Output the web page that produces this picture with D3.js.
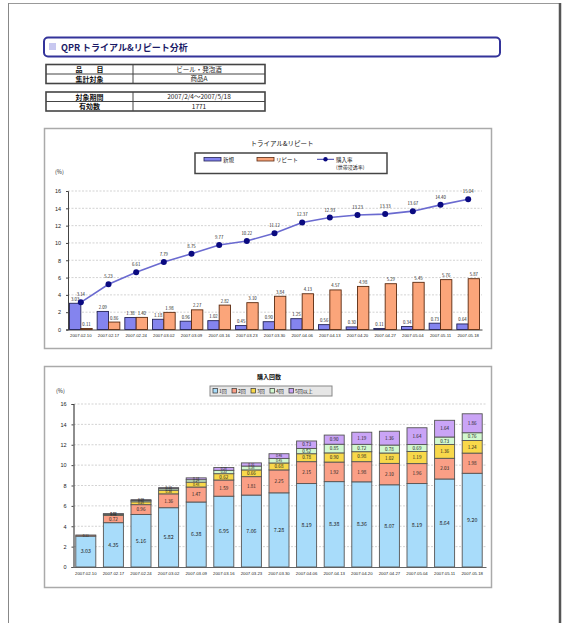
<!DOCTYPE html>
<html><head><meta charset="utf-8">
<script src="https://cdn.jsdelivr.net/npm/d3@7"></script>
<style>
html,body{margin:0;padding:0;background:#fff;}
svg{display:block;font-family:"Noto Sans CJK JP","Noto Sans",sans-serif;}
</style></head>
<body>
<svg id="c" width="563" height="623"></svg>
<script>
const dates = ["2007.02.10","2007.02.17","2007.02.24","2007.03.02","2007.03.09","2007.03.16","2007.03.23","2007.03.30","2007.04.06","2007.04.13","2007.04.20","2007.04.27","2007.05.04","2007.05.11","2007.05.18"];
const newBuyers = [3.03,2.09,1.38,1.18,0.96,1.02,0.45,0.90,1.25,0.56,0.30,0.11,0.34,0.73,0.64];
const repeaters = [0.11,0.86,1.40,1.98,2.27,2.82,3.10,3.84,4.13,4.57,4.98,5.29,5.45,5.76,5.87];
const penetration = [3.14,5.23,6.61,7.79,8.75,9.77,10.22,11.12,12.37,12.93,13.23,13.33,13.67,14.40,15.04];
const times1 = [3.03,4.35,5.16,5.82,6.38,6.95,7.06,7.28,8.19,8.38,8.36,8.07,8.19,8.64,9.20];
const times2 = [0.11,0.72,0.96,1.36,1.47,1.59,1.81,2.25,2.15,1.92,1.98,2.10,1.96,2.03,1.98];
const times3 = [0,0.10,0.28,0.36,0.48,0.62,0.66,0.68,0.78,0.90,0.98,1.02,1.19,1.36,1.24];
const times4 = [0,0.04,0.12,0.15,0.24,0.33,0.38,0.45,0.52,0.85,0.72,0.78,0.69,0.73,0.76];
const times5 = [0,0.02,0.09,0.10,0.18,0.28,0.31,0.46,0.73,0.90,1.19,1.36,1.64,1.64,1.86];
const yTicks = [0,2,4,6,8,10,12,14,16];
const timesNames = ["1回","2回","3回","4回","5回以上"];
const topSeriesNames = ["新規","リピート","購入率","(世帯浸透率)"];
const infoRows1 = [["品　　目","ビール・発泡酒"],["集計対象","商品A"]];
const infoRows2 = [["対象期間","2007/2/4～2007/5/18"],["有効数","1771"]];
const pageTitle = "QPR トライアル&リピート分析";
const chart1Title = "トライアル&リピート";
const chart2Title = "購入回数";

const svg = d3.select("#c");

// page frame
svg.append("line").attr("x1",8).attr("x2",561).attr("y1",3.5).attr("y2",3.5).attr("stroke","#999").attr("stroke-width",1);
svg.append("line").attr("x1",8.5).attr("x2",8.5).attr("y1",3).attr("y2",623).attr("stroke","#888").attr("stroke-width",1);
svg.append("line").attr("x1",560).attr("x2",560).attr("y1",3).attr("y2",623).attr("stroke","#555").attr("stroke-width",2.5);

// title box
svg.append("rect").attr("x",44).attr("y",37.5).attr("width",456).attr("height",19).attr("rx",4)
  .attr("fill","#fff").attr("stroke","#33339a").attr("stroke-width",2);
svg.append("rect").attr("x",49).attr("y",43).attr("width",7).attr("height",7).attr("fill","#c8c8f0");
svg.append("text").attr("x",61).attr("y",50.5).attr("font-size",9).attr("font-weight","bold")
  .attr("fill","#1a1a66").text(pageTitle);

// info tables
function table(rows, y0){
  const x0=46, x1=133, x2=265, rh=9.5;
  const g = svg.append("g");
  rows.forEach((r,i)=>{
    const y = y0 + i*rh;
    g.append("text").attr("x",(x0+x1)/2).attr("y",y+7.5).attr("text-anchor","middle")
      .attr("font-size",7).attr("font-weight","bold").attr("fill","#111").text(r[0]);
    g.append("text").attr("x",(x1+x2)/2).attr("y",y+7.3).attr("text-anchor","middle")
      .attr("font-size",6.5).attr("fill","#222").text(r[1]);
    if(i>0) g.append("line").attr("x1",x0).attr("x2",x2).attr("y1",y).attr("y2",y).attr("stroke","#444").attr("stroke-width",1);
  });
  g.append("line").attr("x1",x1).attr("x2",x1).attr("y1",y0).attr("y2",y0+rows.length*rh).attr("stroke","#444").attr("stroke-width",1);
  g.append("rect").attr("x",x0).attr("y",y0).attr("width",x2-x0).attr("height",rows.length*rh)
    .attr("fill","none").attr("stroke","#444").attr("stroke-width",1.6);
}
table(infoRows1, 64.5);
table(infoRows2, 92);

// panels
svg.append("rect").attr("x",44.5).attr("y",128.5).attr("width",447).attr("height",220)
  .attr("fill","#fff").attr("stroke","#aaa").attr("stroke-width",1.5);
svg.append("rect").attr("x",44.5).attr("y",366.5).attr("width",447).attr("height",221)
  .attr("fill","#fff").attr("stroke","#aaa").attr("stroke-width",1.5);

// ===== Chart 1 =====
const x1 = d3.scaleBand().domain(dates).range([67,482]).paddingInner(0.18).paddingOuter(0.09);
const xs1 = d3.scaleBand().domain(["new","rep"]).range([0,x1.bandwidth()]);
const y1 = d3.scaleLinear().domain([0,16]).range([329.5,191]);
const g1 = svg.append("g");

g1.append("text").attr("x",282).attr("y",146).attr("text-anchor","middle").attr("font-size",6.5).attr("fill","#111").text(chart1Title);
g1.append("text").attr("x",55).attr("y",174).attr("font-size",5.5).attr("fill","#222").text("(%)");

g1.selectAll(".gl").data(yTicks.filter(d=>d>0)).join("line")
  .attr("x1",68).attr("x2",482).attr("y1",d=>y1(d)).attr("y2",d=>y1(d))
  .attr("stroke","#c8c8c8").attr("stroke-width",0.8).attr("stroke-dasharray","2,1.5");
const ya1 = g1.append("g").attr("transform","translate(68,0)")
  .call(d3.axisLeft(y1).tickValues(yTicks).tickSize(2).tickFormat(d3.format("d")));
ya1.selectAll("text").attr("font-size",5.5).attr("fill","#222").attr("dx",-2);
ya1.select(".domain").attr("stroke","#444");
ya1.selectAll(".tick line").attr("stroke","#444");
const xa1 = g1.append("g").attr("transform","translate(0,329.5)")
  .call(d3.axisBottom(x1).tickSize(0).tickPadding(4));
xa1.select(".domain").attr("stroke","#444");
xa1.selectAll("text").attr("font-size",4.3).attr("fill","#222");

const bar1Data = dates.map((d,i)=>({d, items:[{k:"new",v:newBuyers[i]},{k:"rep",v:repeaters[i]}]}));
const grp1 = g1.selectAll(".grp").data(bar1Data).join("g").attr("transform",d=>`translate(${x1(d.d)},0)`);
const col1 = {new:"#8484ee", rep:"#fba57a"};
const stroke1 = {new:"#222255", rep:"#5a2a10"};
grp1.selectAll("rect").data(d=>d.items).join("rect")
  .attr("x",d=>xs1(d.k)).attr("width",xs1.bandwidth())
  .attr("y",d=>y1(d.v)).attr("height",d=>y1(0)-y1(d.v))
  .attr("fill",d=>col1[d.k]).attr("stroke",d=>stroke1[d.k]).attr("stroke-width",0.9);
grp1.selectAll(".bl").data(d=>d.items).join("text")
  .attr("x",d=>xs1(d.k)+xs1.bandwidth()/2).attr("y",d=>y1(d.v)-2.5)
  .attr("text-anchor","middle").attr("font-size",4.3).attr("fill","#222").text(d=>d.v.toFixed(2));

const cx = d=>x1(d)+x1.bandwidth()/2;
g1.append("path").datum(penetration)
  .attr("d",d3.line().x((v,i)=>cx(dates[i])).y(v=>y1(v)))
  .attr("fill","none").attr("stroke","#6a6ad0").attr("stroke-width",1.6);
g1.selectAll(".pt").data(penetration).join("circle")
  .attr("cx",(v,i)=>cx(dates[i])).attr("cy",v=>y1(v)).attr("r",3).attr("fill","#0a0a80");
g1.selectAll(".pl").data(penetration).join("text")
  .attr("x",(v,i)=>cx(dates[i])).attr("y",v=>y1(v)-6)
  .attr("text-anchor","middle").attr("font-size",4.3).attr("fill","#222").text(v=>v.toFixed(2));

const lg1 = g1.append("g");
lg1.append("rect").attr("x",195).attr("y",153).attr("width",192).attr("height",20.5)
  .attr("fill","#fff").attr("stroke","#444").attr("stroke-width",1.5);
lg1.append("rect").attr("x",204).attr("y",157.5).attr("width",17).attr("height",3.5).attr("fill",col1.new).attr("stroke",stroke1.new).attr("stroke-width",0.8);
lg1.append("text").attr("x",223).attr("y",161.5).attr("font-size",5.5).attr("fill","#111").text(topSeriesNames[0]);
lg1.append("rect").attr("x",257).attr("y",157.5).attr("width",17).attr("height",3.5).attr("fill",col1.rep).attr("stroke",stroke1.rep).attr("stroke-width",0.8);
lg1.append("text").attr("x",276).attr("y",161.5).attr("font-size",5.5).attr("fill","#111").text(topSeriesNames[1]);
lg1.append("line").attr("x1",317).attr("x2",334).attr("y1",159.3).attr("y2",159.3).attr("stroke","#3a3aa8").attr("stroke-width",1);
lg1.append("circle").attr("cx",325.5).attr("cy",159.3).attr("r",2.2).attr("fill","#0a0a80");
lg1.append("text").attr("x",336).attr("y",161.5).attr("font-size",5.5).attr("fill","#111").text(topSeriesNames[2]);
lg1.append("text").attr("x",336).attr("y",169).attr("font-size",5).attr("fill","#111").text(topSeriesNames[3]);

// ===== Chart 2 =====
const x2 = d3.scaleBand().domain(dates).range([72,486]).paddingInner(0.275).paddingOuter(0.1375);
const y2 = d3.scaleLinear().domain([0,16]).range([567,404]);
const g2 = svg.append("g");
g2.append("text").attr("x",269).attr("y",379).attr("text-anchor","middle").attr("font-size",6).attr("font-weight","bold").attr("fill","#111").text(chart2Title);
g2.append("text").attr("x",56).attr("y",393).attr("font-size",5.5).attr("fill","#222").text("(%)");

g2.selectAll(".gl").data(yTicks.filter(d=>d>0)).join("line")
  .attr("x1",74).attr("x2",486).attr("y1",d=>y2(d)).attr("y2",d=>y2(d))
  .attr("stroke","#c8c8c8").attr("stroke-width",0.8).attr("stroke-dasharray","2,1.5");
const ya2 = g2.append("g").attr("transform","translate(73.5,0)")
  .call(d3.axisLeft(y2).tickValues(yTicks).tickSize(2).tickFormat(d3.format("d")));
ya2.selectAll("text").attr("font-size",5.5).attr("fill","#222").attr("dx",-2);
ya2.select(".domain").attr("stroke","#444").attr("stroke-width",1.2);
ya2.selectAll(".tick line").attr("stroke","#444");
const xa2 = g2.append("g").attr("transform","translate(0,567)")
  .call(d3.axisBottom(x2).tickSize(0).tickPadding(5));
xa2.select(".domain").attr("stroke","#666");
xa2.selectAll("text").attr("font-size",4.3).attr("fill","#222");

const keys = ["t1","t2","t3","t4","t5"];
const rows2 = dates.map((d,i)=>({d,t1:times1[i],t2:times2[i],t3:times3[i],t4:times4[i],t5:times5[i]}));
const stack = d3.stack().keys(keys)(rows2);
const col2 = {t1:"#a8dcfa",t2:"#fa9f86",t3:"#f8d84a",t4:"#d2f8cf",t5:"#caa4f6"};
const layers = g2.selectAll(".layer").data(stack).join("g");
layers.selectAll("rect").data(s=>s.map(p=>({p,key:s.key})).filter(o=>o.p[1]-o.p[0]>0)).join("rect")
  .attr("x",o=>x2(o.p.data.d)).attr("width",x2.bandwidth())
  .attr("y",o=>y2(o.p[1])).attr("height",o=>y2(o.p[0])-y2(o.p[1]))
  .attr("fill",o=>col2[o.key]).attr("stroke","#555").attr("stroke-width",0.9);
layers.selectAll("text").data(s=>s.map(p=>({p,key:s.key})).filter(o=>o.p[1]-o.p[0]>0)).join("text")
  .attr("x",o=>x2(o.p.data.d)+x2.bandwidth()/2)
  .attr("y",o=>(y2(o.p[0])+y2(o.p[1]))/2+(o.p[1]-o.p[0]<0.5?1.2:1.8))
  .attr("text-anchor","middle")
  .attr("font-size",o=>o.key==="t1"?5.3:(o.p[1]-o.p[0]<0.5?3.2:4.6)).attr("fill","#222")
  .text(o=>(o.p[1]-o.p[0]).toFixed(2));

const lg2 = g2.append("g");
lg2.append("rect").attr("x",210).attr("y",386).attr("width",122).attr("height",10)
  .attr("fill","#e6e6e6").attr("stroke","#888").attr("stroke-width",1);
const lx = [213,232,251,270,289];
timesNames.forEach((n,i)=>{
  lg2.append("rect").attr("x",lx[i]).attr("y",388.5).attr("width",4.5).attr("height",4.5)
    .attr("fill",col2[keys[i]]).attr("stroke","#333").attr("stroke-width",0.7);
  lg2.append("text").attr("x",lx[i]+6).attr("y",393.3).attr("font-size",5).attr("fill","#222").text(n);
});
</script>
</body></html>
